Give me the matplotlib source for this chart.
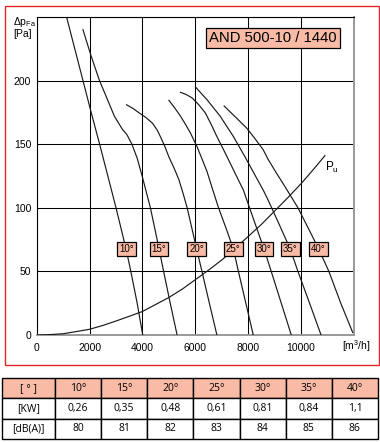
import matplotlib
matplotlib.use('Agg')
import matplotlib.pyplot as plt
from matplotlib.patches import Rectangle

# ==================== Data ====================
ANGLES = ["10°", "15°", "20°", "25°", "30°", "35°", "40°"]

# fan curves, flow [m3/h] vs pressure [Pa]
CURVE_X = [
    [1130, 1440, 1750, 2060, 2380, 2690, 3000, 3380, 3560, 3800, 4010],
    [1750, 2063, 2375, 2626, 2938, 3250, 3413, 3600, 3800, 4000, 4300,
     4630, 4800, 5050, 5310],
    [3400, 3650, 3880, 4130, 4380, 4560, 4700, 4850, 5000, 5200, 5380,
     5540, 5690, 6050, 6250, 6530, 6815],
    [5000, 5220, 5440, 5630, 5815, 6065, 6250, 6440, 6660, 6877, 7160,
     7440, 7628, 7910, 8190],
    [5440, 5660, 5877, 6130, 6378, 6600, 6815, 7035, 7253, 7530, 7815,
     8050, 8320, 8600, 8870, 9250, 9628],
    [6003, 6220, 6440, 6690, 6940, 7190, 7440, 7660, 7880, 8220, 8565,
     8754, 9170, 9590, 9880, 10320, 10754],
    [7090, 7510, 7940, 8250, 8565, 8754, 9060, 9380, 9630, 9880, 10270,
     10667, 11050, 11500, 11950],
]
CURVE_Y = [
    [250, 225, 200, 175, 150, 125, 100, 67.5, 50, 25, 0],
    [240, 219, 200, 187.6, 172, 161.4, 157.5, 150, 139, 124, 100,
     67.5, 50, 25, 0],
    [181, 178, 174.5, 171, 166.5, 161, 155, 148, 140, 131, 122,
     111, 100, 67.5, 50, 25, 0],
    [184.5, 178.5, 172, 165.5, 158.8, 148, 138.5, 128.6, 114, 100, 84,
     67.5, 50, 25, 0],
    [190.8, 189, 186.4, 181, 174.6, 165.5, 156, 147, 137.8, 126, 114,
     100, 84, 67.5, 50, 25, 0],
    [195, 190, 185, 178.5, 172, 164, 156, 148, 140, 127, 114,
     106, 87, 67.5, 50, 25, 0],
    [180, 171.5, 162.7, 154.5, 145.7, 138, 127.5, 117, 108.5, 100, 84,
     67.5, 50, 25, 2],
]

# system curve pu
PU_X = [0, 500, 1000, 1500, 2000, 2500, 3000, 3500, 4000, 4500, 5000,
        5500, 6000, 6500, 7000, 7500, 8000, 8500, 9000, 9500, 10000,
        10500, 10900]
PU_Y = [0, 0.3, 1, 2.7, 4.5, 7.5, 11, 14.7, 18.5, 24, 29.5,
        36, 43.5, 51, 59, 68, 77.5, 87, 97.5, 108, 119,
        131, 141]

# angle tag positions on the chart
TAG_X = [3390, 4630, 6050, 7440, 8600, 9590, 10660]
TAG_Y = 67.5

KW = ["0,26", "0,35", "0,48", "0,61", "0,81", "0,84", "1,1"]
DBA = ["80", "81", "82", "83", "84", "85", "86"]

MODEL = "AND 500-10 / 1440"

# ==================== Style ====================
SALMON = '#f9bba5'
RED = '#e3242b'
W, H = 380, 442

plt.rcParams['font.family'] = ['Liberation Sans', 'DejaVu Sans']


def px_rect(x0, y0, x1, y1):
    return [x0 / W, 1 - y1 / H, (x1 - x0) / W, (y1 - y0) / H]


fig = plt.figure(figsize=(W / 100, H / 100), dpi=100)

# red frame round the chart
fig.add_artist(Rectangle((4.5 / W, 1 - 364.5 / H), 374 / W, 358.5 / H,
                         transform=fig.transFigure, fill=False,
                         ec=RED, lw=1.0))

# --- chart ---
ax = fig.add_axes(px_rect(36.7, 17, 354, 335))
ax.set_xlim(0, 12000)
ax.set_ylim(0, 250)
ax.set_xticks(range(0, 12001, 2000))
ax.set_xticklabels([str(v) for v in range(0, 10001, 2000)] + [''])
ax.set_yticks(range(0, 251, 50))
ax.set_yticklabels([str(v) for v in range(0, 201, 50)] + [''])
ax.tick_params(length=0, labelsize=7.5, pad=4)
ax.tick_params(axis='x', pad=6)
ax.grid(True, color='black', lw=0.75)
for side in ('left', 'top'):
    ax.spines[side].set_color('black')
    ax.spines[side].set_linewidth(0.8)
for side in ('right', 'bottom'):
    ax.spines[side].set_color('#999999')
    ax.spines[side].set_linewidth(1.4)

for xs, ys in zip(CURVE_X, CURVE_Y):
    ax.plot(xs, ys, color='#1a1a1a', lw=0.85, zorder=3)
ax.plot(PU_X, PU_Y, color='#1a1a1a', lw=0.85, zorder=3)
ax.text(11160, 132, r'$\mathregular{P_u}$', fontsize=8.5,
        ha='center', va='center')

for lbl, x in zip(ANGLES, TAG_X):
    ax.text(x, TAG_Y, lbl, fontsize=7, ha='center', va='center', zorder=5,
            bbox=dict(boxstyle='square,pad=0.2', fc=SALMON, ec='black',
                      lw=0.9))

ax.text(8941, 233.2, MODEL, fontsize=10.7, ha='center', va='center',
        zorder=5,
        bbox=dict(boxstyle='square,pad=0.2', fc=SALMON, ec='black', lw=0.9))

fig.text(13 / W, 1 - 22 / H, r'$\mathregular{\Delta p_{Fa}}$', fontsize=7.5,
         ha='left', va='center')
fig.text(13 / W, 1 - 34 / H, '[Pa]', fontsize=7.5, ha='left', va='center')
fig.text(356 / W, 1 - 346 / H, r'[m$\mathregular{^3}$/h]', fontsize=7.5,
         ha='center', va='center')

# --- table ---
tax = fig.add_axes(px_rect(2, 378, 378, 439))
tax.axis('off')
cells = [["[ ° ]"] + ANGLES, ["[KW]"] + KW, ["[dB(A)]"] + DBA]
col_w = [53] + [46.14] * len(ANGLES)
tbl = tax.table(cellText=cells, colWidths=[c / sum(col_w) for c in col_w],
                bbox=[0, 0, 1, 1], cellLoc='center')
tbl.auto_set_font_size(False)
tbl.set_fontsize(7.5)
for (r, c), cell in tbl.get_celld().items():
    cell.set_linewidth(1.0)
    cell.set_edgecolor('black')
    cell.get_text().set_fontfamily(['Open Sans', 'DejaVu Sans'])
    if r == 0:
        cell.set_facecolor(SALMON)

fig.savefig('out.png', dpi=100)
